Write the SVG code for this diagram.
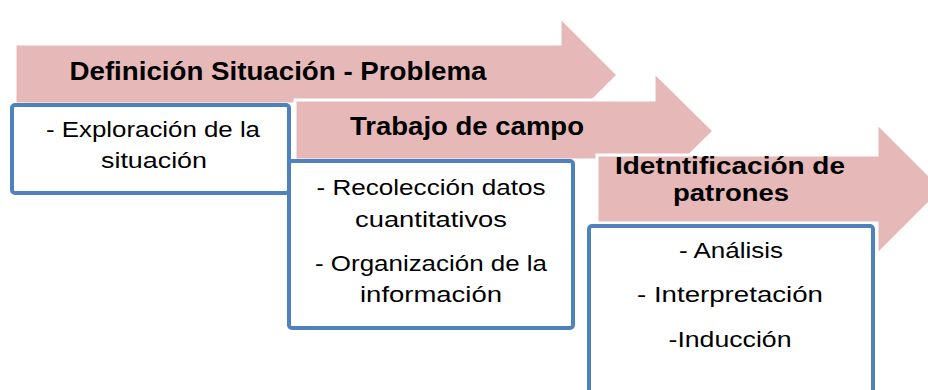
<svg xmlns="http://www.w3.org/2000/svg" width="928" height="390" viewBox="0 0 928 390">
<style>
.arrow{fill:#E6B9B8;stroke:#FFFFFF;stroke-width:3;stroke-linejoin:miter}
.box{fill:#FFFFFF;stroke:#4F81BD;stroke-width:4}
.h{font-family:"Liberation Sans",Arial,sans-serif;font-weight:bold;font-size:26px;fill:#000;text-anchor:middle}
.h3{font-size:23px}
.t{font-family:"Liberation Sans",Arial,sans-serif;font-size:22px;fill:#000;text-anchor:middle}
</style>
<rect width="928" height="390" fill="#FFFFFF"/>
<g id="step1">
<polygon class="arrow" points="15,44 560,44 560,17 618,75 560,133 560,104 15,104"/>
<text class="h" x="278" y="80" textLength="417" lengthAdjust="spacingAndGlyphs">Definición Situación - Problema</text>
</g>
<g id="box1">
<rect class="box" x="12" y="105" width="277" height="88" rx="3"/>
<text class="t" x="153" y="137" textLength="214" lengthAdjust="spacingAndGlyphs">- Exploración de la</text>
<text class="t" x="154" y="168" textLength="106" lengthAdjust="spacingAndGlyphs">situación</text>
</g>
<g id="step2">
<polygon class="arrow" points="295,100 654,100 654,72 714,131 654,190 654,160 295,160"/>
<text class="h" x="467" y="135" textLength="234" lengthAdjust="spacingAndGlyphs">Trabajo de campo</text>
</g>
<g id="box2">
<rect class="box" x="289" y="161" width="284" height="167" rx="3"/>
<text class="t" x="431" y="195" textLength="229" lengthAdjust="spacingAndGlyphs">- Recolección datos</text>
<text class="t" x="431" y="227" textLength="152" lengthAdjust="spacingAndGlyphs">cuantitativos</text>
<text class="t" x="431" y="271" textLength="232" lengthAdjust="spacingAndGlyphs">- Organización de la</text>
<text class="t" x="431" y="302" textLength="142" lengthAdjust="spacingAndGlyphs">información</text>
</g>
<g id="step3">
<polygon class="arrow" points="597,155 877,155 877,123 943,189 877,255 877,223 597,223"/>
<text class="h h3" x="730" y="174" textLength="230" lengthAdjust="spacingAndGlyphs">Idetntificación de</text>
<text class="h h3" x="731" y="201" textLength="116" lengthAdjust="spacingAndGlyphs">patrones</text>
</g>
<g id="box3">
<rect class="box" x="589" y="226" width="284" height="180" rx="3"/>
<text class="t" x="731" y="258" textLength="104" lengthAdjust="spacingAndGlyphs">- Análisis</text>
<text class="t" x="730" y="302" textLength="186" lengthAdjust="spacingAndGlyphs">- Interpretación</text>
<text class="t" x="730" y="347" textLength="123" lengthAdjust="spacingAndGlyphs">-Inducción</text>
</g>
<g id="connectors"/>
</svg>
